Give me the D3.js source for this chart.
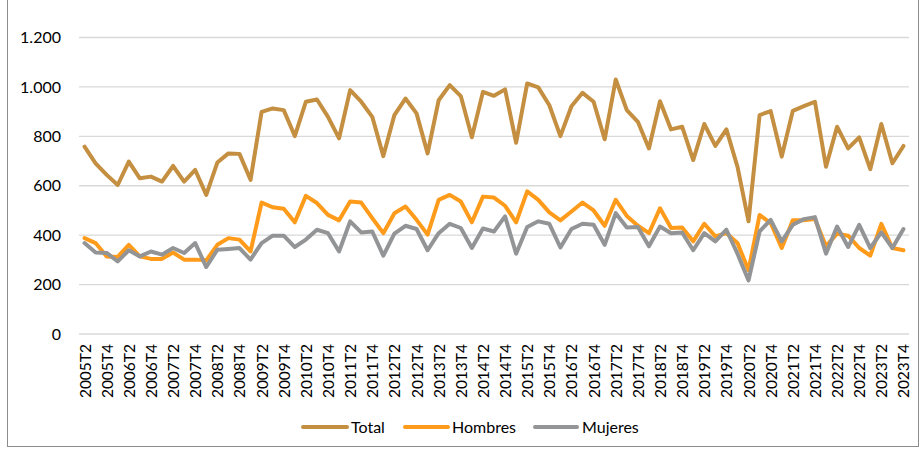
<!DOCTYPE html>
<html>
<head>
<meta charset="utf-8">
<script src="https://cdn.jsdelivr.net/npm/d3@7/dist/d3.min.js"></script>
<style>
  html, body { margin: 0; padding: 0; background: #fff; }
  svg { display: block; font-family: Lato, "Open Sans", sans-serif; }
</style>
</head>
<body>
<svg id="chart" width="920" height="449"></svg>
<script>
// Quarterly series, 2005T2 – 2023T4
const quarters = [];
for (let y = 2005; y <= 2023; y++) {
  for (let q = 1; q <= 4; q++) {
    if (y === 2005 && q === 1) continue;
    quarters.push(y + "T" + q);
  }
}

const total = [
  758, 691, 644, 603, 698, 630, 637, 617, 680, 617, 664, 563,
  694, 731, 729, 624, 899, 913, 906, 801, 940, 949, 879, 792,
  987, 940, 879, 720, 886, 953, 893, 731, 946, 1007, 963, 796,
  980, 964, 990, 774, 1014, 998, 926, 801, 922, 976, 940, 788,
  1030, 906, 859, 751, 942, 828, 839, 704, 850, 761, 828, 677,
  456, 886, 902, 718, 903, 922, 940, 677, 839, 751, 796, 667,
  850, 691, 761
];

const hombres = [
  388, 368, 314, 312, 361, 314, 304, 304, 330, 301, 301, 298,
  361, 388, 382, 334, 532, 513, 507, 452, 559, 530, 482, 460,
  536, 532, 469, 408, 489, 516, 462, 402, 543, 563, 536, 452,
  556, 552, 519, 452, 577, 543, 492, 460, 496, 532, 500, 438,
  543, 478, 438, 408, 509, 429, 431, 375, 446, 395, 408, 368,
  258, 482, 449, 348, 460, 460, 465, 355, 406, 398, 348, 317,
  446, 348, 339
];

const mujeres = [
  368, 330, 328, 294, 339, 314, 334, 321, 348, 328, 368, 271,
  341, 344, 348, 301, 368, 398, 398, 352, 382, 422, 408, 334,
  456, 411, 415, 317, 406, 438, 425, 339, 408, 446, 429, 348,
  427, 415, 476, 325, 433, 456, 446, 350, 425, 446, 442, 361,
  489, 431, 433, 355, 435, 408, 411, 339, 408, 375, 422, 325,
  217, 415, 462, 375, 442, 465, 473, 325, 435, 352, 442, 348,
  411, 348, 425
];

const yTicks = [0, 200, 400, 600, 800, 1000, 1200];
const xTickLabels = quarters.filter(q => q.endsWith("T2") || q.endsWith("T4"));

const seriesNames = ["Total", "Hombres", "Mujeres"];
const seriesColors = ["#C48F40", "#FF9B1B", "#939496"];
const seriesValues = [total, hombres, mujeres];

const svg = d3.select("#chart");

// chart area border
svg.append("rect")
  .attr("x", 7.5).attr("y", -1)
  .attr("width", 911).attr("height", 447.5)
  .attr("fill", "none")
  .attr("stroke", "#8c8c8c")
  .attr("stroke-width", 1);

const plot = { left: 79, right: 909, top: 37.5, bottom: 334 };

const x = d3.scalePoint()
  .domain(quarters)
  .range([plot.left, plot.right])
  .padding(0.5);

const y = d3.scaleLinear()
  .domain([0, 1200])
  .range([plot.bottom, plot.top]);

const fmt = d3.formatLocale({ decimal: ",", thousands: ".", grouping: [3], currency: ["", "€"] }).format(",");

// horizontal gridlines
svg.append("g")
  .selectAll("line")
  .data(yTicks)
  .join("line")
  .attr("x1", plot.left).attr("x2", plot.right)
  .attr("y1", d => y(d)).attr("y2", d => y(d))
  .attr("stroke", "#d9d9d9")
  .attr("stroke-width", 1.3);

// y axis labels
const yAxis = d3.axisLeft(y).tickValues(yTicks).tickFormat(fmt).tickSize(0).tickPadding(0);
const gy = svg.append("g")
  .attr("transform", `translate(61,0)`)
  .call(yAxis);
gy.select(".domain").remove();
gy.selectAll("text")
  .attr("font-family", "Lato, 'Open Sans', sans-serif")
  .attr("font-size", 16)
  .attr("fill", "#000");

// x axis labels, rotated
const xAxis = d3.axisBottom(x).tickValues(xTickLabels).tickSize(0).tickPadding(0);
const gx = svg.append("g")
  .attr("transform", `translate(0,${plot.bottom})`)
  .call(xAxis);
gx.select(".domain").remove();
gx.selectAll("text")
  .attr("font-family", "Lato, 'Open Sans', sans-serif")
  .attr("font-size", 15.5)
  .attr("fill", "#000")
  .attr("text-anchor", "end")
  .attr("dy", null)
  .attr("y", 0)
  .attr("x", 0)
  .attr("transform", "translate(5.5,10) rotate(-90)");

// series lines
const line = d3.line()
  .x((d, i) => x(quarters[i]))
  .y(d => y(d));

svg.append("g")
  .selectAll("path")
  .data(seriesValues)
  .join("path")
  .attr("d", d => line(d))
  .attr("fill", "none")
  .attr("stroke", (d, i) => seriesColors[i])
  .attr("stroke-width", 4)
  .attr("stroke-linejoin", "round")
  .attr("stroke-linecap", "round");

// legend
const legendItems = [
  { x1: 303, x2: 347, tx: 351 },
  { x1: 405, x2: 448, tx: 452 },
  { x1: 535, x2: 577, tx: 582 }
];
const legend = svg.append("g");
legendItems.forEach((it, i) => {
  legend.append("line")
    .attr("x1", it.x1).attr("x2", it.x2)
    .attr("y1", 427).attr("y2", 427)
    .attr("stroke", seriesColors[i])
    .attr("stroke-width", 4)
    .attr("stroke-linecap", "round");
  legend.append("text")
    .attr("x", it.tx).attr("y", 427)
    .attr("dy", "0.35em")
    .attr("font-size", 16)
    .attr("fill", "#000")
    .text(seriesNames[i]);
});
</script>
</body>
</html>
